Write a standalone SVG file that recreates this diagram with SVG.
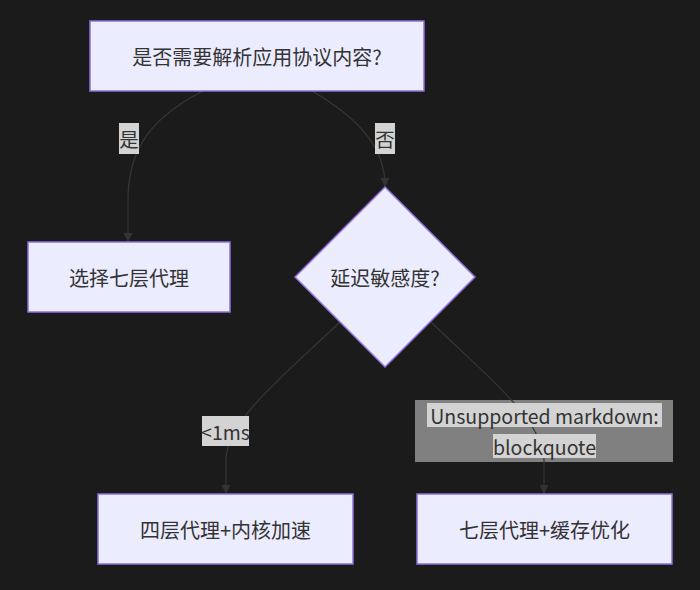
<svg xmlns="http://www.w3.org/2000/svg" width="700" height="590" viewBox="0 0 700 590">
<defs>
<marker id="arr" viewBox="0 0 10 10" refX="9" refY="5" markerWidth="9" markerHeight="9" markerUnits="userSpaceOnUse" orient="auto">
<path d="M0,0 L10,5 L0,10 z" fill="#333333"/>
</marker>
<style>
.node{fill:#ECECFF;stroke:#9370DB;stroke-width:1.5}
.t{font-family:"Noto Sans CJK SC","Noto Sans",sans-serif;font-size:19.5px;fill:#333333;text-anchor:middle;dominant-baseline:central}
.n{font-size:20px}
.edge{fill:none;stroke:#363636;stroke-width:1.2;marker-end:url(#arr)}
.lbl{fill:#d3d3d3}
</style>
</defs>
<rect width="700" height="590" fill="#1b1b1c"/>
<g id="label-box">
<rect x="415" y="400" width="258" height="62" fill="#808080"/>
</g>
<g id="connectors">
<path class="edge" d="M203,91 C150,118 128,150 128,200 L128,241"/>
<path class="edge" d="M312,91 C362,120 385,150 385,186"/>
<path class="edge" d="M340,322 C290,370 226,420 226,460 L226,493"/>
<path class="edge" d="M431,322 C480,370 544,420 544,460 L544,493"/>
</g>
<g id="edge-labels">
<rect class="lbl" x="119" y="123" width="20" height="31"/>
<text class="t" x="129" y="138.5">是</text>
<rect class="lbl" x="202" y="416" width="47" height="30"/>
<rect class="lbl" x="375" y="123" width="20" height="31"/>
<text class="t" x="385" y="138.5">否</text>
<text class="t" x="225.5" y="431">&lt;1ms</text>
<rect class="lbl" x="427" y="403" width="235" height="24"/>
<rect class="lbl" x="493" y="434" width="103" height="24"/>
<text class="t" x="544.5" y="415">Unsupported markdown: </text>
<text class="t" x="544.5" y="446">blockquote</text>
</g>
<g id="A">
<rect class="node" x="90" y="21" width="334" height="70"/>
<text class="t n" x="257" y="56">是否需要解析应用协议内容?</text>
</g>
<g id="B">
<rect class="node" x="28" y="242" width="202" height="70"/>
<text class="t n" x="129" y="277">选择七层代理</text>
</g>
<g id="C">
<polygon class="node" points="385,187 475,277 385,367 295,277"/>
<text class="t n" x="385" y="277">延迟敏感度?</text>
</g>
<g id="D">
<rect class="node" x="98" y="494" width="255" height="70"/>
<text class="t n" x="225.5" y="529">四层代理+内核加速</text>
</g>
<g id="E">
<rect class="node" x="417" y="494" width="255" height="70"/>
<text class="t n" x="544.5" y="529">七层代理+缓存优化</text>
</g>
</svg>
